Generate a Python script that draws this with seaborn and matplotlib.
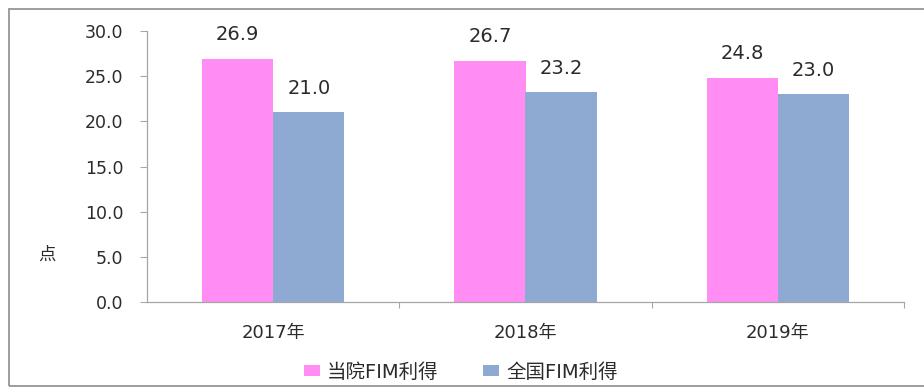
import matplotlib
matplotlib.use("Agg")
import matplotlib.pyplot as plt
from matplotlib.patches import Rectangle
import seaborn as sns
import pandas as pd

years = ["2017年", "2018年", "2019年"]
series = ["当院FIM利得", "全国FIM利得"]
hospital_gain = [26.9, 26.7, 24.8]
national_gain = [21.0, 23.2, 23.0]
colors = ["#FF8DF3", "#8FAAD2"]

df = pd.DataFrame({
    "year": years * 2,
    "series": [series[0]] * 3 + [series[1]] * 3,
    "value": hospital_gain + national_gain,
})

sns.set_theme(style="white")
plt.rcParams["font.family"] = ["DejaVu Sans", "Noto Sans CJK SC"]

fig = plt.figure(figsize=(9.24, 3.88), dpi=100)
ax = fig.add_axes([147 / 924, 1 - 302 / 388, 757 / 924, 271 / 388])

sns.barplot(data=df, x="year", y="value", hue="series", palette=colors,
            width=0.565, gap=0, saturation=1, ax=ax, legend=False,
            edgecolor="none", linewidth=0)

for cont in ax.containers:
    ax.bar_label(cont, fmt="%.1f", padding=10.5, fontsize=14, color="#2b2b2b")

ax.set_ylim(0, 30)
ax.set_yticks([0, 5, 10, 15, 20, 25, 30])
ax.set_yticklabels([f"{v:.1f}" for v in [0, 5, 10, 15, 20, 25, 30]])
ax.set_xlim(-0.5, 2.5)
ax.set_xticks([0, 1, 2])
ax.set_xticklabels(years)
ax.set_xticks([0.5, 1.5, 2.5], minor=True)
ax.tick_params(axis="y", which="major", direction="out", length=5, width=0.8,
               color="#a6a6a6", labelsize=12.5, labelcolor="#2b2b2b", pad=12, left=True)
ax.tick_params(axis="x", which="major", length=0, labelsize=13,
               labelcolor="#2b2b2b", pad=16)
ax.tick_params(axis="x", which="minor", direction="out", length=4, width=0.8,
               color="#a6a6a6", bottom=True)

for side in ["top", "right"]:
    ax.spines[side].set_visible(False)
for side in ["left", "bottom"]:
    ax.spines[side].set_color("#a6a6a6")
    ax.spines[side].set_linewidth(0.9)

ax.set_xlabel("")
ax.set_ylabel("点", rotation=0, fontsize=12.5, color="#2b2b2b", va="center", ha="center")
ax.yaxis.set_label_coords(-0.132, 0.173)

handles = [Rectangle((0, 0), 1, 1, facecolor=c, edgecolor="none") for c in colors]
fig.legend(handles, series, loc="center", bbox_to_anchor=(461 / 924, 1 - 372 / 388),
           ncol=2, frameon=False, fontsize=14, handlelength=0.8, handleheight=0.45,
           handletextpad=0.37, columnspacing=2.3, labelcolor="#2b2b2b")

fig.patches.append(Rectangle((9 / 924, 2 / 388), 1.0, (388 - 11) / 388,
                             transform=fig.transFigure, fill=False,
                             edgecolor="#8c8c8c", linewidth=1.2))

fig.savefig("out.png", dpi=100)
